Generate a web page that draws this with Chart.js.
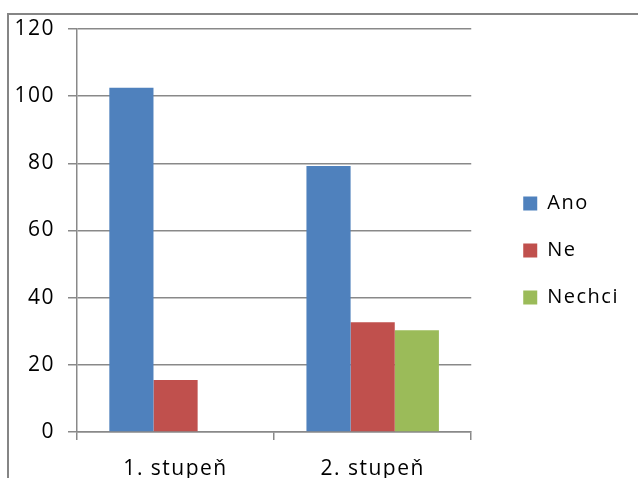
<!DOCTYPE html>
<html lang="cs">
<head>
    <meta charset="UTF-8">
    <title>Ano / Ne / Nechci</title>
    <script src="https://cdn.jsdelivr.net/npm/chart.js@4"></script>
    <style>
        body { margin: 0; background: #fff; }
        #wrap { position: relative; width: 638px; height: 478px; }
        #frame {
            position: absolute; left: 7px; top: 13px; width: 700px; height: 600px;
            border-left: 2px solid #858585; border-top: 2px solid #858585;
        }
        canvas { position: absolute; left: 0; top: 0; }
    </style>
</head>
<body>
<div id="wrap">
    <div id="frame"></div>
    <canvas id="barChart" width="638" height="478"></canvas>
</div>
<script>
// data
const categories = ['1. stupeň', '2. stupeň'];
const ano = [102.5, 79.2];
const ne = [15.5, 32.7];
const nechci = [0, 30.3];
const yTicks = [0, 20, 40, 60, 80, 100, 120];

const gridColor = '#898989';
const family = 'Open Sans, Liberation Sans, sans-serif';

// the original text is a bit loosely spaced
const spacing = {
    id: 'spacing',
    beforeDraw(chart) { chart.ctx.save(); chart.ctx.letterSpacing = '1.5px'; },
    afterDraw(chart) { chart.ctx.restore(); }
};

// legend sits further right of the plot than Chart.js puts it
const legendShift = {
    id: 'legendShift',
    afterLayout(chart) {
        const lg = chart.legend;
        lg.left += 25; lg.right += 25;
        lg.top -= 3; lg.bottom -= 3;
    }
};

new Chart(document.getElementById('barChart'), {
    type: 'bar',
    data: {
        labels: categories,
        datasets: [
            { label: 'Ano', data: ano, backgroundColor: '#4F81BD' },
            { label: 'Ne', data: ne, backgroundColor: '#C0504D' },
            { label: 'Nechci', data: nechci, backgroundColor: '#9BBB59' }
        ]
    },
    plugins: [spacing, legendShift],
    options: {
        responsive: false,
        animation: false,
        categoryPercentage: 0.672,
        barPercentage: 1,
        layout: { padding: { top: 29, left: 0, right: 43, bottom: 0 } },
        plugins: {
            tooltip: { enabled: false },
            legend: {
                position: 'right',
                labels: {
                    boxWidth: 14, boxHeight: 14, padding: 27,
                    color: '#000', font: { family: family, size: 20 }
                }
            }
        },
        scales: {
            x: {
                offset: true,
                border: { color: gridColor, width: 1.5 },
                grid: { offset: true, drawOnChartArea: false, drawTicks: true, tickLength: 8, color: gridColor, lineWidth: 1.5 },
                ticks: { color: '#000', font: { family: family, size: 21 }, padding: 16 },
                afterFit: s => { s.height = 46; }
            },
            y: {
                min: 0, max: 120,
                afterBuildTicks: s => { s.ticks = yTicks.map(v => ({ value: v })); },
                border: { color: gridColor, width: 1.5 },
                grid: { color: gridColor, lineWidth: 1.5, tickLength: 9 },
                ticks: { color: '#000', font: { family: family, size: 21 }, padding: 13 },
                afterFit: s => { s.width = 77; }
            }
        }
    }
});
</script>
</body>
</html>
